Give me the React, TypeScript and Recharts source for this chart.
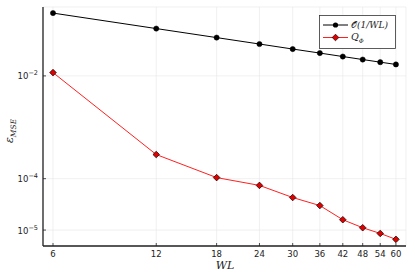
import React from 'react';
import { LineChart, Line, XAxis, YAxis, CartesianGrid } from 'recharts';

const WL = [6, 12, 18, 24, 30, 36, 42, 48, 54, 60];
const refValues = [0.1667, 0.0833, 0.0556, 0.0417, 0.0333, 0.0278, 0.0238, 0.0208, 0.0185, 0.0167];
const qValues = [1.16e-2, 2.95e-4, 1.05e-4, 7.4e-5, 4.3e-5, 3.0e-5, 1.59e-5, 1.11e-5, 8.6e-6, 6.6e-6];
const xTicks = [6, 12, 18, 24, 30, 36, 42, 48, 54, 60];
const yTicks = [1e-5, 1e-4, 1e-2];
const yTickExp: Record<string, string> = { '0.00001': '−5', '0.0001': '−4', '0.01': '−2' };

const data = WL.map((w, i) => ({ wl: w, ref: refValues[i], q: qValues[i] }));

const TICK_FONT = '"DejaVu Sans", sans-serif';
const MATH_FONT = '"DejaVu Serif", "Liberation Serif", serif';

const XTick = (props: any) => {
  const { x, y, payload } = props;
  const axisY = y - 4;
  return (
    <g>
      <line x1={x} x2={x} y1={axisY} y2={axisY - 3} stroke="#222" strokeWidth={0.8} />
      <text x={x} y={axisY + 11} textAnchor="middle" fontSize={8.5} fontFamily={TICK_FONT} fill="#222">
        {payload.value}
      </text>
    </g>
  );
};

const YTick = (props: any) => {
  const { x, y, payload } = props;
  const axisX = x + 5;
  const exp = yTickExp[String(payload.value)] ?? '';
  return (
    <g>
      <line x1={axisX} x2={axisX + 3} y1={y} y2={y} stroke="#222" strokeWidth={0.8} />
      <text x={x} y={y + 3.5} textAnchor="end" fontSize={8.5} fontFamily={TICK_FONT} fill="#222">
        <tspan>10</tspan>
        <tspan dy={-4} fontSize={6.5}>{exp}</tspan>
      </text>
    </g>
  );
};

const BlackDot = (props: any) => {
  const { cx, cy } = props;
  return <circle cx={cx} cy={cy} r={2.6} fill="#000" stroke="#000" strokeWidth={0.5} />;
};

const RedDiamond = (props: any) => {
  const { cx, cy } = props;
  const s = 3.3;
  return (
    <polygon
      points={`${cx},${cy - s} ${cx + s},${cy} ${cx},${cy + s} ${cx - s},${cy}`}
      fill="#e00000"
      stroke="#000"
      strokeWidth={0.7}
    />
  );
};

export default function App() {
  return (
    <div style={{ position: 'absolute', left: 0, top: 0, width: 415, height: 277, background: '#fff' }}>
      <LineChart width={415} height={277} data={data} margin={{ top: 7, right: 9, bottom: 0, left: 0 }}>
        <CartesianGrid stroke="#e6e6e6" strokeWidth={0.6} />
        <XAxis
          dataKey="wl"
          type="number"
          scale="log"
          domain={[5.61, 64.2]}
          allowDataOverflow
          ticks={xTicks}
          height={31}
          tickSize={0}
          tickMargin={4}
          tick={<XTick />}
          axisLine={{ stroke: '#222', strokeWidth: 1.3 }}
          interval={0}
        />
        <YAxis
          type="number"
          scale="log"
          domain={[4.9e-6, 0.219]}
          allowDataOverflow
          ticks={yTicks}
          width={43}
          tickSize={0}
          tickMargin={5}
          tick={<YTick />}
          axisLine={{ stroke: '#222', strokeWidth: 1.3 }}
          interval={0}
        />
        <Line
          dataKey="ref"
          stroke="#000"
          strokeWidth={1}
          dot={<BlackDot />}
          isAnimationActive={false}
        />
        <Line
          dataKey="q"
          stroke="#ff2020"
          strokeWidth={1}
          dot={<RedDiamond />}
          isAnimationActive={false}
        />
      </LineChart>
      <svg width={415} height={277} style={{ position: 'absolute', left: 0, top: 0, pointerEvents: 'none' }}>
        <text
          transform="translate(13,131) rotate(-90)"
          textAnchor="middle"
          fontFamily={MATH_FONT}
          fontStyle="italic"
          fontSize={11}
          fill="#222"
        >
          <tspan>ε</tspan>
          <tspan dy={3} fontSize={7.5}>MSE</tspan>
        </text>
        <text x={225} y={269} textAnchor="middle" fontFamily={MATH_FONT} fontStyle="italic" fontSize={11} fill="#222">
          WL
        </text>
        <rect x={319.5} y={15.5} width={76} height={33} fill="#fff" stroke="#333" strokeWidth={0.8} />
        <line x1={323} x2={348} y1={25} y2={25} stroke="#000" strokeWidth={1} />
        <circle cx={335.5} cy={25} r={2.6} fill="#000" />
        <text x={351} y={28} fontFamily={MATH_FONT} fontSize={9} fill="#222">
          <tspan>𝒪</tspan>
          <tspan fontStyle="italic">(1/WL)</tspan>
        </text>
        <line x1={323} x2={348} y1={37.5} y2={37.5} stroke="#ff2020" strokeWidth={1} />
        <polygon points="335.5,34.2 338.8,37.5 335.5,40.8 332.2,37.5" fill="#e00000" stroke="#000" strokeWidth={0.7} />
        <text x={351} y={40} fontFamily={MATH_FONT} fontStyle="italic" fontSize={9.5} fill="#222">
          <tspan>Q</tspan>
          <tspan dy={2.5} fontSize={6}>Φ</tspan>
        </text>
      </svg>
    </div>
  );
}
